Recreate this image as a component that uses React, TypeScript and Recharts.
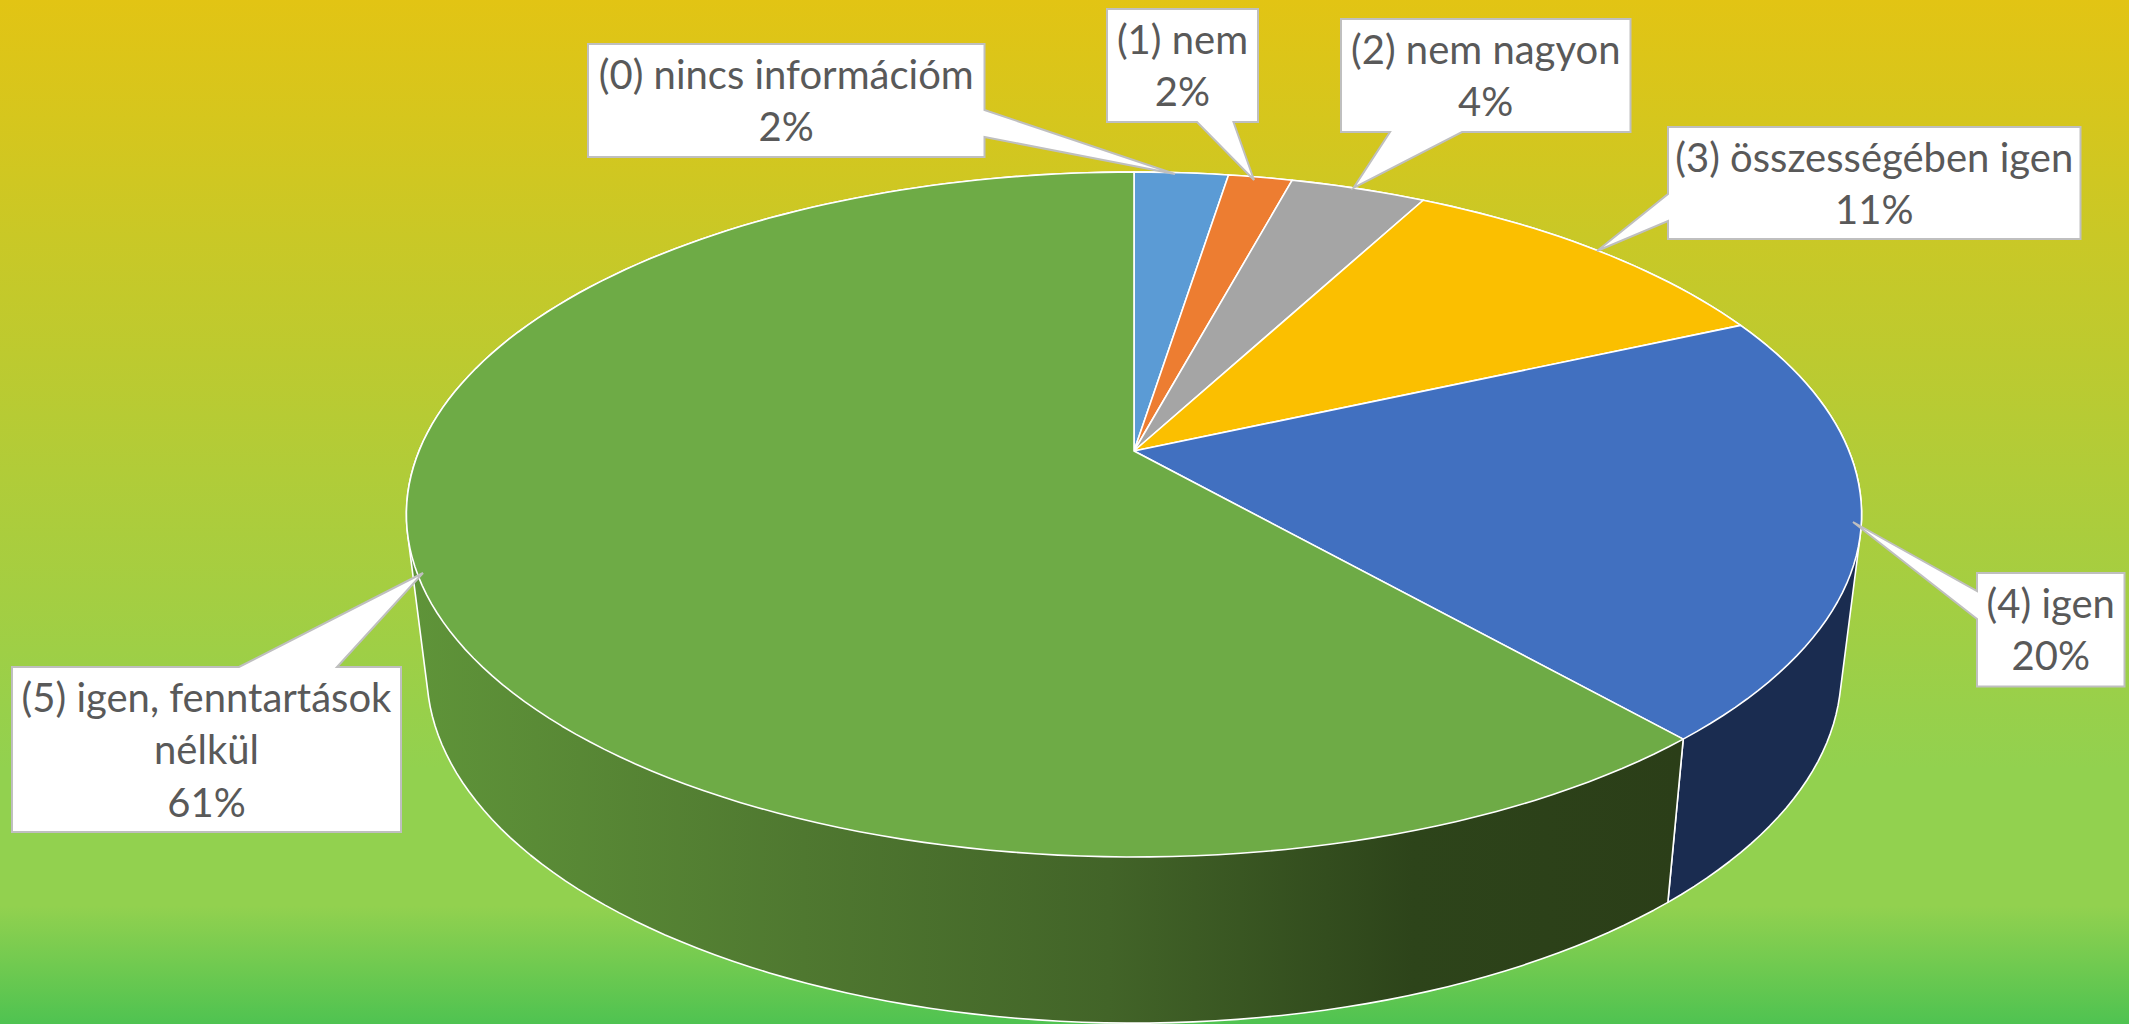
import React from 'react';
import { PieChart, Pie } from 'recharts';

const categories = ['(0) nincs információm', '(1) nem', '(2) nem nagyon', '(3) összességében igen', '(4) igen', '(5) igen, fenntartások\nnélkül'];
const sliceValues = [2.5, 1.7, 3.6, 10.5, 20.2, 61.5];
const percentLabels = ['2%', '2%', '4%', '11%', '20%', '61%'];

const topColors = ['#5b9bd5', '#ed7d31', '#a5a5a5', '#fbbf00', '#4170c0', '#6eab46'];
const wallColors = ['#2f5f8a', '#8a4a1d', '#636363', '#997300', '#1a2c50', 'url(#greenWall)'];

// Callout geometry (box corners, pointer base on one side, pointer tip)
const callouts = [
  { box: [588, 44, 984.5, 157], side: 'right', base: [110, 137], tip: [1175, 174] },
  { box: [1107, 9, 1258, 122], side: 'bottom', base: [1233.5, 1197], tip: [1254, 180] },
  { box: [1341, 19, 1630.5, 132], side: 'bottom', base: [1462, 1390], tip: [1353.5, 188] },
  { box: [1668, 127, 2080.5, 239], side: 'left', base: [221, 194], tip: [1597, 251] },
  { box: [1977, 573, 2124.5, 686.5], side: 'left', base: [619, 591], tip: [1853, 522] },
  { box: [12, 667, 401, 832], side: 'top', base: [239, 337], tip: [423, 573] },
];

const chartData = categories.map((name, i) => ({ name, value: sliceValues[i] }));

const CX = 1134;
const CY = 451;
const R = 715;
const PERSPECTIVE = 0.1854;
const TOP_Y_RATIO = 330.7 / 715;
const BOTTOM = { dy: 156, xRatio: 695 / 715, yRatio: 339 / 715 };

const RAD = Math.PI / 180;
function project(cx: number, cy: number, r: number, xr: number, yr: number, deg: number) {
  const x = Math.cos(deg * RAD);
  const y = Math.sin(deg * RAD);
  const w = 1 + PERSPECTIVE * y;
  return [cx + (r * xr * x) / w, cy - (r * yr * y) / w];
}
function arc(cx: number, cy: number, r: number, xr: number, yr: number, a0: number, a1: number) {
  const n = Math.max(2, Math.ceil(Math.abs(a1 - a0) / 1.5));
  const pts: number[][] = [];
  for (let i = 0; i <= n; i++) pts.push(project(cx, cy, r, xr, yr, a0 + ((a1 - a0) * i) / n));
  return pts;
}
const toPath = (pts: number[][]) => 'M' + pts.map((p) => p[0].toFixed(2) + ' ' + p[1].toFixed(2)).join('L') + 'Z';

function hull(input: number[][]) {
  const pts = [...input].sort((p, q) => p[0] - q[0] || p[1] - q[1]);
  const cross = (o: number[], a: number[], b: number[]) => (a[0] - o[0]) * (b[1] - o[1]) - (a[1] - o[1]) * (b[0] - o[0]);
  const lo: number[][] = [];
  for (const p of pts) {
    while (lo.length >= 2 && cross(lo[lo.length - 2], lo[lo.length - 1], p) <= 0) lo.pop();
    lo.push(p);
  }
  const up: number[][] = [];
  for (const p of [...pts].reverse()) {
    while (up.length >= 2 && cross(up[up.length - 2], up[up.length - 1], p) <= 0) up.pop();
    up.push(p);
  }
  return [...lo.slice(0, -1), ...up.slice(0, -1)];
}

function TopFace(props: any) {
  const { cx, cy, outerRadius, startAngle, endAngle, index } = props;
  const pts = [[cx, cy], ...arc(cx, cy, outerRadius, 1, TOP_Y_RATIO, startAngle, endAngle)];
  return <path d={toPath(pts)} fill={topColors[index]} stroke="#ffffff" strokeWidth={1.6} strokeLinejoin="round" />;
}

// The side of a slice: the silhouette joining the upper and the lower rim of the cylinder.
function WallFace(props: any) {
  const { cx, cy, outerRadius, startAngle, endAngle, index } = props;
  const upper = arc(cx, cy, outerRadius, 1, TOP_Y_RATIO, startAngle, endAngle);
  const lower = arc(cx, cy + BOTTOM.dy, outerRadius, BOTTOM.xRatio, BOTTOM.yRatio, endAngle, startAngle);
  return <path d={toPath(hull([...upper, ...lower]))} fill={wallColors[index]} stroke="#ffffff" strokeWidth={1.6} strokeLinejoin="round" />;
}

function calloutPath(c: (typeof callouts)[number]) {
  const [x0, y0, x1, y1] = c.box;
  const [a, b] = c.base;
  const pts: number[][] = [[x0, y0]];
  if (c.side === 'top') pts.push([a, y0], c.tip, [b, y0]);
  pts.push([x1, y0]);
  if (c.side === 'right') pts.push([x1, a], c.tip, [x1, b]);
  pts.push([x1, y1]);
  if (c.side === 'bottom') pts.push([a, y1], c.tip, [b, y1]);
  pts.push([x0, y1]);
  if (c.side === 'left') pts.push([x0, a], c.tip, [x0, b]);
  return toPath(pts);
}

function Callout(props: any) {
  const i = props.index;
  const c = callouts[i];
  const lines = [...categories[i].split('\n'), percentLabels[i]];
  const mid = (c.box[0] + c.box[2]) / 2;
  return (
    <g>
      <path d={calloutPath(c)} fill="#ffffff" stroke="#bfbfbf" strokeWidth={2} strokeLinejoin="miter" />
      {lines.map((t, k) => (
        <text key={k} x={mid} y={c.box[1] + 44.5 + 52.7 * k} textAnchor="middle" fontFamily="Lato" fontSize={40} fill="#595959">
          {t}
        </text>
      ))}
    </g>
  );
}

export default function App() {
  return (
    <div
      style={{
        position: 'absolute',
        left: 0,
        top: 0,
        width: 2129,
        height: 1024,
        overflow: 'hidden',
        background: 'linear-gradient(180deg, #e2c414 0%, #92d14f 75%, #92d14f 88.5%, #4fc351 100%)',
      }}
    >
      <PieChart width={2129} height={1024} margin={{ top: 0, right: 0, bottom: 0, left: 0 }}>
        <defs>
          <linearGradient id="greenWall" gradientUnits="userSpaceOnUse" x1={410} y1={0} x2={1680} y2={0}>
            <stop offset="0" stopColor="#5f9439" />
            <stop offset="0.31" stopColor="#4f7830" />
            <stop offset="0.55" stopColor="#426428" />
            <stop offset="0.79" stopColor="#2d441a" />
            <stop offset="1" stopColor="#2b3e18" />
          </linearGradient>
        </defs>
        <Pie
          data={chartData}
          dataKey="value"
          nameKey="name"
          cx={CX}
          cy={CY}
          outerRadius={R}
          startAngle={90}
          endAngle={-270}
          isAnimationActive={false}
          shape={WallFace}
          label={false}
          labelLine={false}
          legendType="none"
        />
        <Pie
          data={chartData}
          dataKey="value"
          nameKey="name"
          cx={CX}
          cy={CY}
          outerRadius={R}
          startAngle={90}
          endAngle={-270}
          isAnimationActive={false}
          shape={TopFace}
          label={Callout}
          labelLine={false}
          legendType="none"
        />
      </PieChart>
    </div>
  );
}
